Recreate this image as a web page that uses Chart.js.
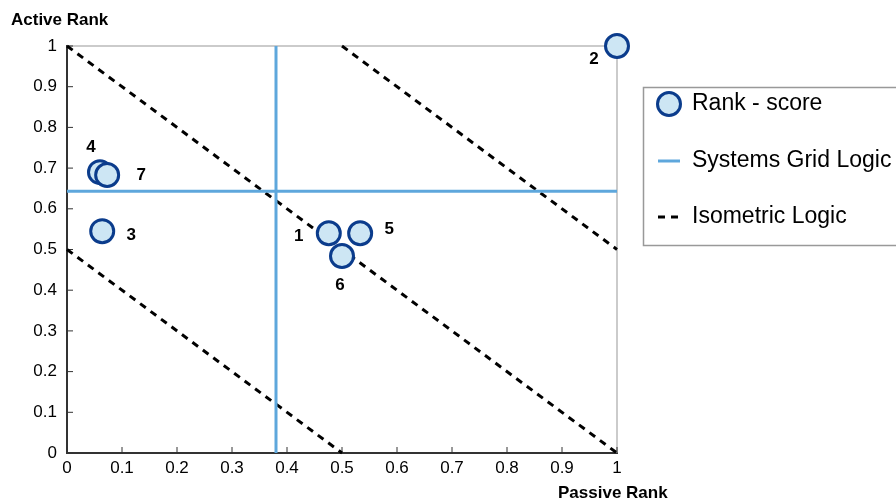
<!DOCTYPE html>
<html lang="en">
<head>
  <meta charset="UTF-8">
  <title>Active vs Passive Rank</title>
  <script src="https://cdn.jsdelivr.net/npm/chart.js@4"></script>
  <style>
    html, body { margin: 0; padding: 0; background: #fff; }
    #wrap { width: 896px; height: 502px; }
  </style>
</head>
<body>
<div id="wrap"><canvas id="myChart" width="896" height="502"></canvas></div>
<script>
// data
const pointLabels = ['1', '2', '3', '4', '5', '6', '7'];
const passiveRank = [0.476, 1.0, 0.064, 0.06, 0.533, 0.5, 0.073];
const activeRank  = [0.54, 1.0, 0.545, 0.69, 0.54, 0.484, 0.683];
// label offsets (px) from each point
const labelDx = [-30, -23, 29, -9, 29, -2, 34];
const labelDy = [3, 13, 4, -25, -4, 29, 0];

const gridLogicX = 0.38;   // systems grid logic, vertical
const gridLogicY = 0.643;  // systems grid logic, horizontal
// isometric lines: x+y = const
const isoX1 = [0, 0, 0.5];
const isoY1 = [0.5, 1, 1];
const isoX2 = [0.5, 1, 1];
const isoY2 = [0, 0, 0.5];

const tickValues = [0, 0.1, 0.2, 0.3, 0.4, 0.5, 0.6, 0.7, 0.8, 0.9, 1];

const BLUE = '#5ea7dc';
const NAVY = '#0b3c8c';
const FILL = '#cde6f4';
const FONT = 'Arial, "Liberation Sans", sans-serif';

const isoSets = isoX1.map((x, i) => ({
  label: i === 0 ? 'Isometric Logic' : '',
  data: [{x: x, y: isoY1[i]}, {x: isoX2[i], y: isoY2[i]}],
  showLine: true, borderColor: '#000', borderWidth: 3, borderDash: [7, 6],
  pointRadius: 0, clip: false
}));

// draws frame, inward ticks, point labels, axis titles and legend
const extras = {
  id: 'extras',
  beforeDatasetsDraw(chart) {
    const {ctx, chartArea: a, scales: {x, y}} = chart;
    ctx.save();
    ctx.strokeStyle = '#bbb';
    ctx.lineWidth = 1.5;
    ctx.beginPath();
    ctx.moveTo(a.left, a.top); ctx.lineTo(a.right, a.top); ctx.lineTo(a.right, a.bottom);
    ctx.stroke();
    ctx.strokeStyle = '#333';
    ctx.lineWidth = 1;
    tickValues.forEach(v => {
      const px = x.getPixelForValue(v), py = y.getPixelForValue(v);
      ctx.beginPath(); ctx.moveTo(px, a.bottom); ctx.lineTo(px, a.bottom - 6); ctx.stroke();
      ctx.beginPath(); ctx.moveTo(a.left, py); ctx.lineTo(a.left + 6, py); ctx.stroke();
    });
    ctx.restore();
  },
  afterDraw(chart) {
    const {ctx, scales: {x, y}} = chart;
    ctx.save();
    ctx.fillStyle = '#000';
    ctx.font = 'bold 17px ' + FONT;
    ctx.textAlign = 'center';
    ctx.textBaseline = 'middle';
    pointLabels.forEach((t, i) => {
      ctx.fillText(t, x.getPixelForValue(passiveRank[i]) + labelDx[i],
                      y.getPixelForValue(activeRank[i]) + labelDy[i]);
    });
    ctx.textAlign = 'left';
    ctx.fillText('Active Rank', 11, 20);
    ctx.fillText('Passive Rank', 558, 493);

    // legend box
    ctx.strokeStyle = '#999';
    ctx.lineWidth = 1.5;
    ctx.strokeRect(643.5, 87.5, 270, 158);
    ctx.beginPath();
    ctx.arc(669, 104, 11.5, 0, Math.PI * 2);
    ctx.fillStyle = FILL; ctx.fill();
    ctx.lineWidth = 3; ctx.strokeStyle = NAVY; ctx.stroke();
    ctx.strokeStyle = BLUE; ctx.lineWidth = 3;
    ctx.beginPath(); ctx.moveTo(658, 161); ctx.lineTo(680, 161); ctx.stroke();
    ctx.strokeStyle = '#000'; ctx.setLineDash([7, 6]);
    ctx.beginPath(); ctx.moveTo(658, 217); ctx.lineTo(680, 217); ctx.stroke();
    ctx.setLineDash([]);
    ctx.fillStyle = '#000';
    ctx.font = '23px ' + FONT;
    ctx.fillText('Rank - score', 692, 104);
    ctx.fillText('Systems Grid Logic', 692, 161);
    ctx.fillText('Isometric Logic', 692, 217);
    ctx.restore();
  }
};

const fmt = v => String(Math.round(v * 10) / 10);

const ctx = document.getElementById('myChart').getContext('2d');
new Chart(ctx, {
  type: 'scatter',
  data: {
    datasets: [
      {
        label: 'Rank - score',
        data: passiveRank.map((v, i) => ({x: v, y: activeRank[i]})),
        pointRadius: 11.5, pointBorderWidth: 3,
        pointBackgroundColor: FILL, pointBorderColor: NAVY,
        clip: false
      },
      {
        label: 'Systems Grid Logic',
        data: [{x: gridLogicX, y: 0}, {x: gridLogicX, y: 1}],
        showLine: true, borderColor: BLUE, borderWidth: 3, pointRadius: 0
      },
      {
        label: '',
        data: [{x: 0, y: gridLogicY}, {x: 1, y: gridLogicY}],
        showLine: true, borderColor: BLUE, borderWidth: 3, pointRadius: 0
      },
      ...isoSets
    ]
  },
  options: {
    responsive: false,
    animation: false,
    layout: { padding: { top: 46, right: 279, left: 0, bottom: 0 } },
    plugins: { legend: { display: false }, tooltip: { enabled: false } },
    scales: {
      x: {
        type: 'linear', min: 0, max: 1,
        grid: { display: false, drawTicks: false },
        border: { display: true, color: '#333', width: 2 },
        ticks: { stepSize: 0.1, padding: 5, color: '#000', callback: fmt,
                 font: { family: FONT, size: 17 } },
        afterFit(s) { s.height = 49; }
      },
      y: {
        type: 'linear', min: 0, max: 1,
        grid: { display: false, drawTicks: false },
        border: { display: true, color: '#333', width: 2 },
        ticks: { stepSize: 0.1, padding: 10, color: '#000', callback: fmt,
                 font: { family: FONT, size: 17 } },
        afterFit(s) { s.width = 67; }
      }
    }
  },
  plugins: [extras]
});
</script>
</body>
</html>
